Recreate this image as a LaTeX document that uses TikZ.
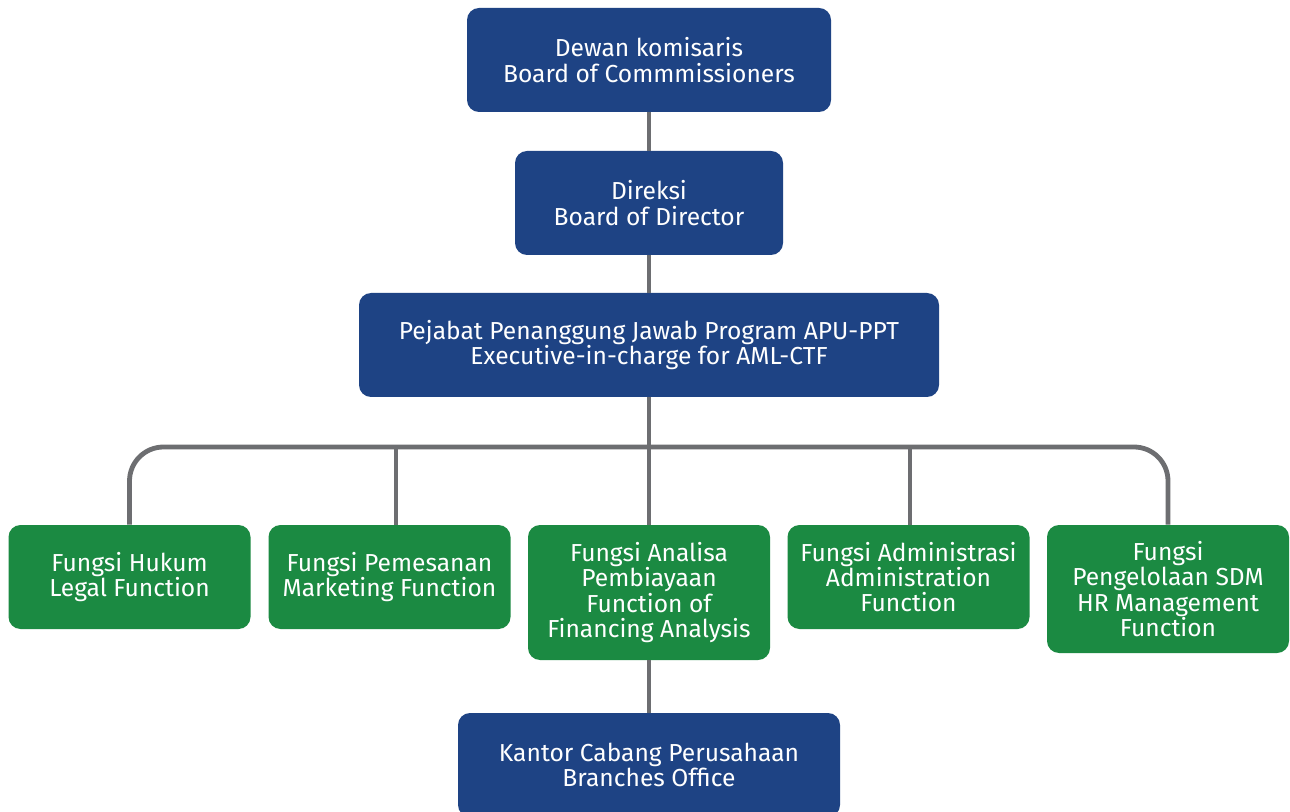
\documentclass[tikz,border=0pt]{standalone}
\usepackage{fontspec}
\setmainfont{Fira Sans}
\usetikzlibrary{calc}
\definecolor{boardblue}{HTML}{1E4384}
\definecolor{funcgreen}{HTML}{1B8A42}
\definecolor{linegray}{HTML}{6D6E71}
\tikzset{
  box/.style={rounded corners=6pt, text=white, align=center, inner sep=0pt,
    font=\fontsize{12.3}{12.6}\selectfont},
  bluebox/.style={box, fill=boardblue, minimum height=52pt},
  greenbox/.style={box, fill=funcgreen, minimum width=121pt, minimum height=52pt},
  link/.style={draw=linegray, line width=2.4pt},
}

\begin{document}
\begin{tikzpicture}[x=0.5pt,y=-0.5pt]
  \useasboundingbox[fill=white] (0,0) rectangle (1290,812);

  \node[bluebox, minimum width=182pt] (dk) at (649,60) {Dewan komisaris\\Board of Commmissioners};
  \node[bluebox, minimum width=134pt] (dir) at (649,203) {Direksi\\Board of Director};
  \node[bluebox, minimum width=290pt] (pj) at (649,345) {Pejabat Penanggung Jawab Program APU-PPT\\Executive-in-charge for AML-CTF};

  \node[greenbox] (legal) at (129.5,577) {Fungsi Hukum\\Legal Function};
  \node[greenbox] (mkt) at (389.5,577) {Fungsi Pemesanan\\Marketing Function};
  \node[greenbox, minimum height=67.5pt] (fin) at (649,592.5) {Fungsi Analisa\\Pembiayaan\\Function of\\Financing Analysis};
  \node[greenbox] (adm) at (908.5,577) {Fungsi Administrasi\\Administration\\Function};
  \node[greenbox, minimum height=64pt] (hr) at (1168,589) {Fungsi\\Pengelolaan SDM\\HR Management\\Function};

  \node[bluebox, minimum width=191pt] (br) at (649,765) {Kantor Cabang Perusahaan\\Branches Office};

  \coordinate (bus) at (649,447);
  \draw[link] (dk) -- (dir);
  \draw[link] (dir) -- (pj);
  \draw[link] (pj) -- (fin);
  \draw[link, rounded corners=17pt] (legal.north) |- (bus) -| (hr.north);
  \draw[link] ([xshift=3.25pt]mkt.north) -- ([xshift=3.25pt]mkt.north |- bus);
  \draw[link] ([xshift=0.75pt]adm.north) -- ([xshift=0.75pt]adm.north |- bus);
  \draw[link] (fin) -- (br);
\end{tikzpicture}
\end{document}
